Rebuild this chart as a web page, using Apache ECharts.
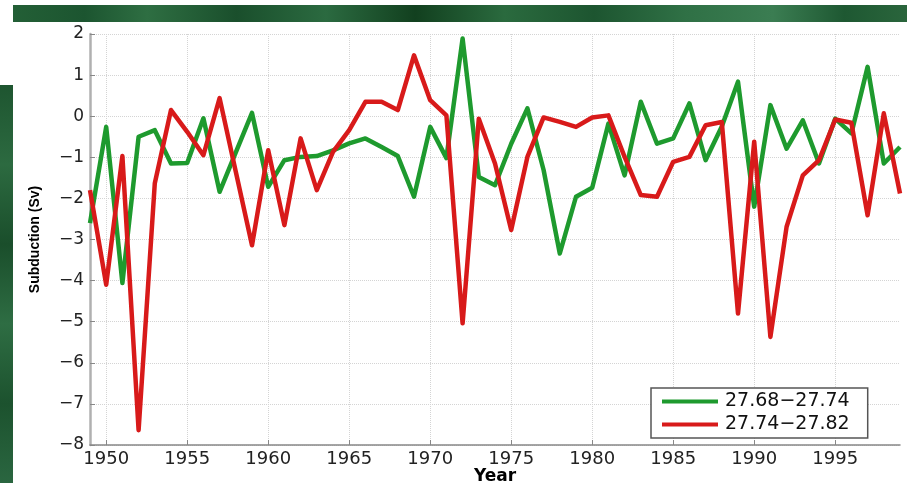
<!DOCTYPE html>
<html>
<head>
<meta charset="utf-8">
<script src="https://cdn.jsdelivr.net/npm/echarts@6/dist/echarts.min.js"></script>
<style>
html,body{margin:0;padding:0;background:#fff;}
#chart{width:907px;height:483px;}
</style>
</head>
<body>
<div id="chart"></div>
<script>
const years = [];
for (let y = 1949; y <= 1999; y++) years.push(String(y));

const seriesNames = ['27.68\u221227.74', '27.74\u221227.82'];

const green = [
  -2.6, -0.26, -4.06, -0.5, -0.34, -1.15, -1.14, -0.05, -1.84, -0.88,
  0.08, -1.72, -1.07, -0.99, -0.97, -0.83, -0.66, -0.54, -0.75, -0.97,
  -1.96, -0.26, -1.02, 1.89, -1.48, -1.68, -0.67, 0.19, -1.31, -3.34,
  -1.96, -1.74, -0.18, -1.44, 0.35, -0.67, -0.54, 0.31, -1.07, -0.25,
  0.84, -2.2, 0.27, -0.79, -0.1, -1.15, -0.06, -0.42, 1.2, -1.15,
  -0.75
];

const red = [
  -1.8, -4.1, -0.97, -7.64, -1.63, 0.15, -0.38, -0.95, 0.44, -1.35,
  -3.14, -0.83, -2.65, -0.54, -1.8, -0.87, -0.34, 0.35, 0.35, 0.15,
  1.48, 0.39, 0.02, -5.04, -0.06, -1.15, -2.77, -0.99, -0.03, -0.14,
  -0.26, -0.03, 0.02, -0.99, -1.92, -1.96, -1.11, -0.99, -0.22, -0.14,
  -4.8, -0.62, -5.37, -2.69, -1.44, -1.07, -0.08, -0.16, -2.41, 0.07,
  -1.88
];

const yTicks = [-8, -7, -6, -5, -4, -3, -2, -1, 0, 1, 2];

const chart = echarts.init(document.getElementById('chart'), null, {renderer: 'canvas'});
const every5 = (idx, val) => Number(val) % 5 === 0;

const option = {
  backgroundColor: '#ffffff',
  animation: false,
  graphic: [
    {
      type: 'rect', left: 13, top: 5, shape: {width: 894, height: 17},
      style: {
        fill: new echarts.graphic.LinearGradient(0, 0, 1, 0, [
          {offset: 0, color: '#235f36'}, {offset: 0.08, color: '#1c5530'},
          {offset: 0.15, color: '#2e6e42'}, {offset: 0.25, color: '#1a4f2c'},
          {offset: 0.35, color: '#2b6a40'}, {offset: 0.45, color: '#12401f'},
          {offset: 0.55, color: '#2a6a3e'}, {offset: 0.65, color: '#1d5530'},
          {offset: 0.75, color: '#2f7045'}, {offset: 0.85, color: '#3b7d52'},
          {offset: 0.93, color: '#1e5832'}, {offset: 1, color: '#2a653c'}
        ])
      },
      silent: true
    },
    {
      type: 'rect', left: 0, top: 85, shape: {width: 13, height: 398},
      style: {
        fill: new echarts.graphic.LinearGradient(0, 0, 0, 1, [
          {offset: 0, color: '#1e5530'}, {offset: 0.2, color: '#2c6a40'},
          {offset: 0.4, color: '#1a4e2b'}, {offset: 0.6, color: '#2e6d43'},
          {offset: 0.8, color: '#1c522e'}, {offset: 1, color: '#2a6640'}
        ])
      },
      silent: true
    }
  ],
  grid: {left: 90, right: 7, top: 34, bottom: 38, containLabel: false, outerBoundsMode: 'none'},
  legend: {
    left: 651, top: 388,
    orient: 'vertical',
    backgroundColor: '#ffffff',
    borderColor: '#555555',
    borderWidth: 1.5,
    borderRadius: 0,
    padding: [4, 18, 4, 11],
    itemGap: 4,
    itemWidth: 56,
    itemHeight: 4,
    icon: 'rect',
    textStyle: {fontFamily: 'DejaVu Sans', fontSize: 19, color: '#111', padding: [0, 0, 0, 2]},
    data: seriesNames
  },
  xAxis: {
    type: 'category',
    data: years,
    boundaryGap: false,
    name: 'Year',
    nameLocation: 'middle',
    nameGap: 23,
    nameMoveOverlap: false,
    nameTextStyle: {fontFamily: 'DejaVu Sans', fontWeight: 'bold', fontSize: 17, color: '#000', verticalAlign: 'top'},
    axisLine: {show: true, onZero: false, lineStyle: {color: '#888', width: 1.5}},
    axisTick: {show: true, inside: true, length: 5, interval: every5, lineStyle: {color: '#888'}},
    axisLabel: {
      interval: every5, fontFamily: 'DejaVu Sans', fontSize: 18, color: '#222', margin: 5
    },
    splitLine: {show: true, interval: every5, lineStyle: {type: 'dotted', color: '#d4d4d4', width: 1}}
  },
  yAxis: {
    type: 'value',
    min: -8, max: 2, interval: 1,
    name: 'Subduction (Sv)',
    nameLocation: 'middle',
    nameGap: 48,
    nameRotate: 90,
    nameMoveOverlap: false,
    nameTextStyle: {fontFamily: 'Liberation Sans', fontWeight: 'bold', fontSize: 14, color: '#000'},
    axisLine: {show: true, onZero: false, lineStyle: {color: '#b0b0b0', width: 2.5}},
    axisTick: {show: true, inside: true, length: 5, lineStyle: {color: '#888'}},
    axisLabel: {
      fontFamily: 'DejaVu Sans', fontSize: 17, color: '#222', margin: 6,
      formatter: v => (yTicks.includes(v) ? String(v).replace('-', '\u2212') : '')
    },
    splitLine: {show: true, lineStyle: {type: 'dotted', color: '#d4d4d4', width: 1}}
  },
  series: [
    {
      name: seriesNames[0], type: 'line', data: green,
      showSymbol: false, symbol: 'none',
      lineStyle: {color: '#1e9a2e', width: 4.5, join: 'round'},
      itemStyle: {color: '#1e9a2e'}
    },
    {
      name: seriesNames[1], type: 'line', data: red,
      showSymbol: false, symbol: 'none',
      lineStyle: {color: '#d81a1a', width: 4.5, join: 'round'},
      itemStyle: {color: '#d81a1a'}
    }
  ]
};
chart.setOption(option);
</script>
</body>
</html>
